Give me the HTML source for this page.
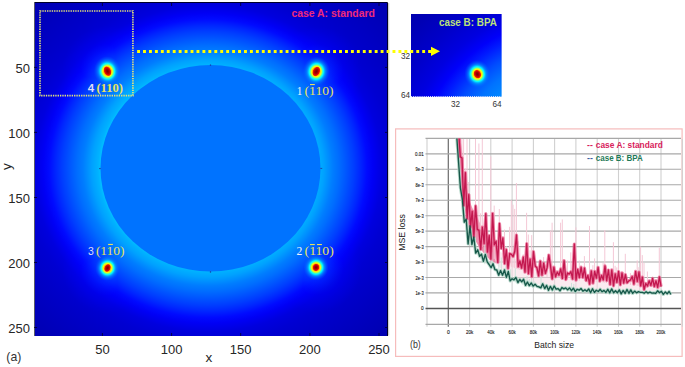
<!DOCTYPE html>
<html><head><meta charset="utf-8"><style>
html,body{margin:0;padding:0;background:#fff;width:685px;height:367px;overflow:hidden;}
svg{display:block;}

</style></head><body>
<svg width="685" height="367" viewBox="0 0 685 367"><defs><radialGradient id="hg" gradientUnits="userSpaceOnUse" cx="208.0" cy="168.3" r="260.0" gradientTransform="translate(0 10.251) scale(1 0.9391)"><stop offset="0.0000" stop-color="#00c7ff"/><stop offset="0.4115" stop-color="#00c2ff"/><stop offset="0.4231" stop-color="#00b2ff"/><stop offset="0.4462" stop-color="#00a1ff"/><stop offset="0.4808" stop-color="#007dff"/><stop offset="0.5038" stop-color="#006dff"/><stop offset="0.5269" stop-color="#005aff"/><stop offset="0.5615" stop-color="#003dff"/><stop offset="0.5846" stop-color="#0027ff"/><stop offset="0.6115" stop-color="#000aff"/><stop offset="0.6346" stop-color="#0000f5"/><stop offset="0.6692" stop-color="#0000de"/><stop offset="0.7115" stop-color="#0000d2"/><stop offset="0.7692" stop-color="#0000c9"/><stop offset="0.8654" stop-color="#0000bd"/><stop offset="1.0000" stop-color="#0000ad"/></radialGradient><radialGradient id="hg2" gradientUnits="userSpaceOnUse" cx="210.5" cy="168.3" r="260.0" gradientTransform="translate(0 10.251) scale(1 0.9391)"><stop offset="0.0000" stop-color="#0094ff"/><stop offset="0.4038" stop-color="#008fff"/><stop offset="0.4808" stop-color="#0073ff"/><stop offset="0.5385" stop-color="#004dff"/><stop offset="0.5962" stop-color="#001cff"/><stop offset="0.6346" stop-color="#0000fa"/><stop offset="0.6846" stop-color="#0000e0"/><stop offset="0.7692" stop-color="#0000c9"/><stop offset="0.8654" stop-color="#0000b6"/><stop offset="1.0000" stop-color="#0000a3"/></radialGradient><radialGradient id="sg"><stop offset="0.000" stop-color="#ff4c00"/><stop offset="0.200" stop-color="#ff6b00"/><stop offset="0.287" stop-color="#ffbd00"/><stop offset="0.353" stop-color="#faff05"/><stop offset="0.413" stop-color="#9eff61"/><stop offset="0.473" stop-color="#38ffc7"/><stop offset="0.533" stop-color="#00f5ff"/><stop offset="0.600" stop-color="#00b8ff"/><stop offset="0.700" stop-color="#0094ff" stop-opacity="0.7"/><stop offset="0.853" stop-color="#007aff" stop-opacity="0.3"/><stop offset="1" stop-color="#0061ff" stop-opacity="0"/></radialGradient><radialGradient id="sc"><stop offset="0" stop-color="#780000"/><stop offset="0.45" stop-color="#b00000"/><stop offset="0.8" stop-color="#f00800" stop-opacity="0.9"/><stop offset="1" stop-color="#ff3000" stop-opacity="0"/></radialGradient><radialGradient id="halo"><stop offset="0" stop-color="#0070ff" stop-opacity="0.6"/><stop offset="0.3" stop-color="#0038ff" stop-opacity="0.5"/><stop offset="0.6" stop-color="#0000ff" stop-opacity="0.35"/><stop offset="1" stop-color="#0000ff" stop-opacity="0"/></radialGradient><clipPath id="hc"><rect x="34.0" y="3.0" width="354.0" height="333.0"/></clipPath></defs><g clip-path="url(#hc)"><rect x="34.0" y="3.0" width="354.0" height="333.0" fill="url(#hg)"/><ellipse cx="210.50" cy="168.30" rx="110.00" ry="103.30" fill="#0073ff"/><rect x="209.9" y="64.4" width="1.2" height="1.4" fill="#1a3aa0" opacity="0.85"/><rect x="209.9" y="271.2" width="1.2" height="1.5" fill="#1a3aa0" opacity="0.85"/><rect x="99.0" y="168.1" width="1.8" height="1.0" fill="#1a3aa0" opacity="0.85"/><rect x="320.4" y="167.9" width="1.8" height="1.0" fill="#1a3aa0" opacity="0.85"/><circle cx="107.5" cy="71.2" r="46" fill="url(#halo)" style="mix-blend-mode:lighten"/><circle cx="316.3" cy="71.5" r="46" fill="url(#halo)" style="mix-blend-mode:lighten"/><circle cx="107.5" cy="268.0" r="46" fill="url(#halo)" style="mix-blend-mode:lighten"/><circle cx="316.0" cy="267.4" r="46" fill="url(#halo)" style="mix-blend-mode:lighten"/><ellipse cx="107.5" cy="71.2" rx="13.5" ry="15.0" transform="rotate(-10 107.5 71.2)" fill="url(#sg)"/><ellipse cx="107.5" cy="71.2" rx="3.7" ry="5.4" transform="rotate(-25 107.5 71.2)" fill="url(#sc)"/><ellipse cx="316.3" cy="71.5" rx="13.5" ry="15.0" transform="rotate(10 316.3 71.5)" fill="url(#sg)"/><ellipse cx="316.3" cy="71.5" rx="3.7" ry="5.4" transform="rotate(25 316.3 71.5)" fill="url(#sc)"/><ellipse cx="107.5" cy="268.0" rx="12.2" ry="12.8" transform="rotate(10 107.5 268.0)" fill="url(#sg)"/><ellipse cx="107.5" cy="268.0" rx="3.2" ry="4.3" transform="rotate(25 107.5 268.0)" fill="url(#sc)"/><ellipse cx="316.0" cy="267.4" rx="12.6" ry="13.0" transform="rotate(6 316.0 267.4)" fill="url(#sg)"/><ellipse cx="316.0" cy="267.4" rx="3.5" ry="3.9" transform="rotate(15 316.0 267.4)" fill="url(#sc)"/></g><path d="M34.5 2.5 H387.5 V336.0" fill="none" stroke="#00002a" stroke-width="1"/><line x1="34.5" y1="2.0" x2="34.5" y2="336.0" stroke="#5a5a6a" stroke-width="1"/><line x1="102.4" y1="336.0" x2="102.4" y2="333.0" stroke="#00002a" stroke-width="0.8"/><line x1="102.4" y1="3" x2="102.4" y2="6" stroke="#00002a" stroke-width="0.8"/><line x1="34" y1="67.4" x2="37" y2="67.4" stroke="#00002a" stroke-width="0.8"/><line x1="388" y1="67.4" x2="385" y2="67.4" stroke="#00002a" stroke-width="0.8"/><line x1="171.6" y1="336.0" x2="171.6" y2="333.0" stroke="#00002a" stroke-width="0.8"/><line x1="171.6" y1="3" x2="171.6" y2="6" stroke="#00002a" stroke-width="0.8"/><line x1="34" y1="132.4" x2="37" y2="132.4" stroke="#00002a" stroke-width="0.8"/><line x1="388" y1="132.4" x2="385" y2="132.4" stroke="#00002a" stroke-width="0.8"/><line x1="240.7" y1="336.0" x2="240.7" y2="333.0" stroke="#00002a" stroke-width="0.8"/><line x1="240.7" y1="3" x2="240.7" y2="6" stroke="#00002a" stroke-width="0.8"/><line x1="34" y1="197.5" x2="37" y2="197.5" stroke="#00002a" stroke-width="0.8"/><line x1="388" y1="197.5" x2="385" y2="197.5" stroke="#00002a" stroke-width="0.8"/><line x1="309.9" y1="336.0" x2="309.9" y2="333.0" stroke="#00002a" stroke-width="0.8"/><line x1="309.9" y1="3" x2="309.9" y2="6" stroke="#00002a" stroke-width="0.8"/><line x1="34" y1="262.5" x2="37" y2="262.5" stroke="#00002a" stroke-width="0.8"/><line x1="388" y1="262.5" x2="385" y2="262.5" stroke="#00002a" stroke-width="0.8"/><line x1="379.0" y1="336.0" x2="379.0" y2="333.0" stroke="#00002a" stroke-width="0.8"/><line x1="379.0" y1="3" x2="379.0" y2="6" stroke="#00002a" stroke-width="0.8"/><line x1="34" y1="327.5" x2="37" y2="327.5" stroke="#00002a" stroke-width="0.8"/><line x1="388" y1="327.5" x2="385" y2="327.5" stroke="#00002a" stroke-width="0.8"/><text x="102.4" y="354.0" font-family="&quot;Liberation Sans&quot;, sans-serif" font-size="13.00" fill="#262626" text-anchor="middle">50</text><text x="30.0" y="73.0" font-family="&quot;Liberation Sans&quot;, sans-serif" font-size="13.00" fill="#262626" text-anchor="end">50</text><text x="171.6" y="354.0" font-family="&quot;Liberation Sans&quot;, sans-serif" font-size="13.00" fill="#262626" text-anchor="middle">100</text><text x="30.0" y="138.0" font-family="&quot;Liberation Sans&quot;, sans-serif" font-size="13.00" fill="#262626" text-anchor="end">100</text><text x="240.7" y="354.0" font-family="&quot;Liberation Sans&quot;, sans-serif" font-size="13.00" fill="#262626" text-anchor="middle">150</text><text x="30.0" y="203.1" font-family="&quot;Liberation Sans&quot;, sans-serif" font-size="13.00" fill="#262626" text-anchor="end">150</text><text x="309.9" y="354.0" font-family="&quot;Liberation Sans&quot;, sans-serif" font-size="13.00" fill="#262626" text-anchor="middle">200</text><text x="30.0" y="268.1" font-family="&quot;Liberation Sans&quot;, sans-serif" font-size="13.00" fill="#262626" text-anchor="end">200</text><text x="379.0" y="354.0" font-family="&quot;Liberation Sans&quot;, sans-serif" font-size="13.00" fill="#262626" text-anchor="middle">250</text><text x="30.0" y="333.1" font-family="&quot;Liberation Sans&quot;, sans-serif" font-size="13.00" fill="#262626" text-anchor="end">250</text><text x="208.8" y="361.5" font-family="&quot;Liberation Sans&quot;, sans-serif" font-size="13.50" fill="#262626" text-anchor="middle">x</text><text transform="translate(11.4 166.5) rotate(-90)" font-family="&quot;Liberation Sans&quot;, sans-serif" font-size="13.5" fill="#262626" text-anchor="middle">y</text><text x="6.3" y="361.4" font-family="&quot;Liberation Sans&quot;, sans-serif" font-size="13.40" fill="#333333" textLength="15.0" lengthAdjust="spacingAndGlyphs">(a)</text><line x1="388.7" y1="3" x2="388.7" y2="335.5" stroke="#c4c4c4" stroke-width="1"/><rect x="40.0" y="11" width="92.9" height="84.6" fill="none" stroke="#e2e27a" stroke-width="1.7" stroke-dasharray="1.35 1.0"/><text x="87.7" y="92.3" font-family="&quot;Liberation Sans&quot;, sans-serif" font-size="11.60" fill="#dcdcf8" font-weight="bold" textLength="6.4" lengthAdjust="spacingAndGlyphs">4</text><text x="96.4" y="92.3" font-family="&quot;Liberation Serif&quot;, serif" font-size="12.60" fill="#e8e25e" font-weight="bold" textLength="26.5" lengthAdjust="spacingAndGlyphs">(110)</text><text x="296.7" y="94.8" font-family="&quot;Liberation Serif&quot;, serif" font-size="11.60" fill="#eef4fc" textLength="5.6" lengthAdjust="spacingAndGlyphs">1</text><text x="304.6" y="94.8" font-family="&quot;Liberation Serif&quot;, serif" font-size="12.60" fill="#e8e25e" textLength="28.9" lengthAdjust="spacingAndGlyphs">(110)</text><rect x="310.0" y="84.0" width="4.8" height="1.1" fill="#e8e25e"/><text x="88.1" y="255.1" font-family="&quot;Liberation Sans&quot;, sans-serif" font-size="11.60" fill="#dcdcf8" textLength="5.8" lengthAdjust="spacingAndGlyphs">3</text><text x="95.9" y="255.1" font-family="&quot;Liberation Serif&quot;, serif" font-size="12.60" fill="#e8e25e" textLength="28.6" lengthAdjust="spacingAndGlyphs">(110)</text><rect x="108.1" y="243.9" width="4.8" height="1.1" fill="#e8e25e"/><text x="296.5" y="255.1" font-family="&quot;Liberation Serif&quot;, serif" font-size="11.60" fill="#eef4fc" textLength="5.8" lengthAdjust="spacingAndGlyphs">2</text><text x="304.6" y="255.1" font-family="&quot;Liberation Serif&quot;, serif" font-size="12.60" fill="#e8e25e" textLength="29.2" lengthAdjust="spacingAndGlyphs">(110)</text><rect x="310.0" y="244.0" width="4.8" height="1.1" fill="#e8e25e"/><rect x="317.0" y="244.0" width="4.9" height="1.1" fill="#e8e25e"/><text x="291.4" y="17.1" font-family="&quot;Liberation Sans&quot;, sans-serif" font-size="11.40" fill="#ee2a7b" font-weight="bold" textLength="83.5" lengthAdjust="spacingAndGlyphs">case A: standard</text><clipPath id="insc"><rect x="411" y="14" width="90.8" height="83"/></clipPath><g clip-path="url(#insc)"><g transform="translate(411 14) scale(0.9763) translate(-40 -11)"><rect x="40" y="11" width="93" height="85.5" fill="url(#hg2)"/><ellipse cx="108.0" cy="72.6" rx="13.3" ry="14.5" transform="rotate(-10 108.0 72.6)" fill="url(#sg)"/><ellipse cx="108.0" cy="72.6" rx="3.8" ry="4.8" transform="rotate(-25 108.0 72.6)" fill="url(#sc)"/></g></g><line x1="411" y1="96.6" x2="501.8" y2="96.6" stroke="#e8e8ff" stroke-width="1" stroke-dasharray="1.2 0.9"/><text x="438.9" y="25.8" font-family="&quot;Liberation Sans&quot;, sans-serif" font-size="11.40" fill="#bde07a" font-weight="bold" textLength="58.0" lengthAdjust="spacingAndGlyphs">case B: BPA</text><text x="410.0" y="59.0" font-family="&quot;Liberation Sans&quot;, sans-serif" font-size="8.20" fill="#333" text-anchor="end">32</text><text x="410.0" y="97.6" font-family="&quot;Liberation Sans&quot;, sans-serif" font-size="8.20" fill="#333" text-anchor="end">64</text><text x="455.6" y="107.0" font-family="&quot;Liberation Sans&quot;, sans-serif" font-size="8.20" fill="#333" text-anchor="middle">32</text><text x="497.1" y="107.0" font-family="&quot;Liberation Sans&quot;, sans-serif" font-size="8.20" fill="#333" text-anchor="middle">64</text><line x1="137.1" y1="51.4" x2="431" y2="51.4" stroke="#ffff00" stroke-width="3" stroke-dasharray="2.9 3.04"/><polygon points="431,46.7 440,51.3 431,55.9" fill="#ffff00"/><rect x="395.6" y="128.9" width="286.5" height="227.5" fill="#fff" stroke="#f6bcbc" stroke-width="1.2"/><line x1="427.0" y1="138.9" x2="427.0" y2="326.8" stroke="#d0d0d0" stroke-width="1.1"/><line x1="448.3" y1="138.9" x2="448.3" y2="326.8" stroke="#6a6a6a" stroke-width="1.2"/><line x1="469.6" y1="138.9" x2="469.6" y2="326.8" stroke="#d0d0d0" stroke-width="1.1"/><line x1="490.8" y1="138.9" x2="490.8" y2="326.8" stroke="#d0d0d0" stroke-width="1.1"/><line x1="512.1" y1="138.9" x2="512.1" y2="326.8" stroke="#d0d0d0" stroke-width="1.1"/><line x1="533.4" y1="138.9" x2="533.4" y2="326.8" stroke="#d0d0d0" stroke-width="1.1"/><line x1="554.6" y1="138.9" x2="554.6" y2="326.8" stroke="#d0d0d0" stroke-width="1.1"/><line x1="575.9" y1="138.9" x2="575.9" y2="326.8" stroke="#d0d0d0" stroke-width="1.1"/><line x1="597.2" y1="138.9" x2="597.2" y2="326.8" stroke="#d0d0d0" stroke-width="1.1"/><line x1="618.5" y1="138.9" x2="618.5" y2="326.8" stroke="#d0d0d0" stroke-width="1.1"/><line x1="639.7" y1="138.9" x2="639.7" y2="326.8" stroke="#d0d0d0" stroke-width="1.1"/><line x1="661.0" y1="138.9" x2="661.0" y2="326.8" stroke="#d0d0d0" stroke-width="1.1"/><line x1="682.3" y1="138.9" x2="682.3" y2="326.8" stroke="#d0d0d0" stroke-width="1.1"/><line x1="425.5" y1="308.4" x2="681.0" y2="308.4" stroke="#555555" stroke-width="1.5"/><line x1="425.5" y1="292.9" x2="681.0" y2="292.9" stroke="#a8a8a8" stroke-width="1.1"/><line x1="425.5" y1="277.5" x2="681.0" y2="277.5" stroke="#a8a8a8" stroke-width="1.1"/><line x1="425.5" y1="262.0" x2="681.0" y2="262.0" stroke="#a8a8a8" stroke-width="1.1"/><line x1="425.5" y1="246.6" x2="681.0" y2="246.6" stroke="#a8a8a8" stroke-width="1.1"/><line x1="425.5" y1="231.1" x2="681.0" y2="231.1" stroke="#a8a8a8" stroke-width="1.1"/><line x1="425.5" y1="215.7" x2="681.0" y2="215.7" stroke="#a8a8a8" stroke-width="1.1"/><line x1="425.5" y1="200.2" x2="681.0" y2="200.2" stroke="#a8a8a8" stroke-width="1.1"/><line x1="425.5" y1="184.8" x2="681.0" y2="184.8" stroke="#a8a8a8" stroke-width="1.1"/><line x1="425.5" y1="169.3" x2="681.0" y2="169.3" stroke="#a8a8a8" stroke-width="1.1"/><line x1="425.5" y1="153.9" x2="681.0" y2="153.9" stroke="#a8a8a8" stroke-width="1.1"/><line x1="425.5" y1="138.4" x2="681.0" y2="138.4" stroke="#a8a8a8" stroke-width="1.1"/><line x1="425.5" y1="324.3" x2="681.0" y2="324.3" stroke="#a8a8a8" stroke-width="1.3"/><clipPath id="pc"><rect x="427.3" y="138.4" width="253.7" height="185.4"/></clipPath><g clip-path="url(#pc)"><polygon points="456.3,91.7 457.3,105.4 458.4,116.8 459.5,129.8 460.5,143.9 461.6,155.7 462.7,165.9 463.7,174.7 464.8,182.4 465.8,189.2 466.9,195.2 468.0,200.6 469.0,205.5 470.1,209.1 471.2,211.6 472.2,213.8 473.3,216.0 474.4,217.9 475.4,219.8 476.5,221.6 477.5,223.6 478.6,225.8 479.7,227.9 480.7,229.8 481.8,231.7 482.9,233.4 483.9,235.1 485.0,236.7 486.1,238.2 487.1,239.6 488.2,240.9 489.2,242.1 490.3,243.3 491.4,244.5 492.4,245.5 493.5,246.6 494.6,247.6 495.6,248.6 496.7,249.5 497.8,250.4 498.8,251.1 499.9,251.7 500.9,252.3 502.0,252.8 503.1,253.3 504.1,253.8 505.2,254.3 506.3,254.8 507.3,255.3 508.4,255.8 509.5,256.2 510.5,256.7 511.6,257.1 512.6,257.6 513.7,258.1 514.8,258.7 515.8,259.2 516.9,259.7 518.0,260.2 519.0,260.7 520.1,261.2 521.1,261.6 522.2,262.1 523.3,262.5 524.3,262.9 525.4,263.4 526.5,263.8 527.5,264.2 528.6,264.6 529.7,264.9 530.7,265.3 531.8,265.7 532.8,266.0 533.9,266.4 535.0,266.6 536.0,266.9 537.1,267.2 538.2,267.5 539.2,267.7 540.3,268.0 541.4,268.2 542.4,268.5 543.5,268.7 544.5,269.0 545.6,269.2 546.7,269.5 547.7,269.7 548.8,269.9 549.9,270.1 550.9,270.4 552.0,270.6 553.1,270.8 554.1,271.0 555.2,271.2 556.2,271.3 557.3,271.5 558.4,271.6 559.4,271.8 560.5,271.9 561.6,272.1 562.6,272.2 563.7,272.3 564.8,272.5 565.8,272.6 566.9,272.7 567.9,272.9 569.0,273.0 570.1,273.1 571.1,273.3 572.2,273.4 573.3,273.5 574.3,273.6 575.4,273.7 576.5,273.9 577.5,274.0 578.6,274.1 579.6,274.2 580.7,274.3 581.8,274.4 582.8,274.6 583.9,274.7 585.0,274.8 586.0,274.9 587.1,275.0 588.2,275.1 589.2,275.2 590.3,275.3 591.3,275.4 592.4,275.5 593.5,275.6 594.5,275.7 595.6,275.8 596.7,275.9 597.7,276.0 598.8,276.1 599.8,276.3 600.9,276.4 602.0,276.5 603.0,276.6 604.1,276.7 605.2,276.9 606.2,277.0 607.3,277.1 608.4,277.2 609.4,277.3 610.5,277.4 611.5,277.5 612.6,277.6 613.7,277.8 614.7,277.9 615.8,278.0 616.9,278.1 617.9,278.2 619.0,278.3 620.1,278.4 621.1,278.5 622.2,278.6 623.2,278.7 624.3,278.8 625.4,278.9 626.4,279.0 627.5,279.1 628.6,279.2 629.6,279.3 630.7,279.5 631.8,279.7 632.8,279.9 633.9,280.0 634.9,280.2 636.0,280.4 637.1,280.6 638.1,280.8 639.2,280.9 640.3,281.1 641.3,281.3 642.4,281.4 643.5,281.6 644.5,281.8 645.6,281.9 646.6,282.1 647.7,282.2 648.8,282.4 649.8,282.5 650.9,282.7 652.0,282.9 653.0,283.0 654.1,283.1 655.2,283.3 656.2,283.4 657.3,283.6 658.3,283.7 659.4,283.9 660.5,284.0 660.5,291.4 659.4,291.4 658.3,291.4 657.3,291.3 656.2,291.3 655.2,291.3 654.1,291.3 653.0,291.2 652.0,291.2 650.9,291.2 649.8,291.1 648.8,291.1 647.7,291.1 646.6,291.1 645.6,291.0 644.5,291.0 643.5,291.0 642.4,291.0 641.3,290.9 640.3,290.9 639.2,290.9 638.1,290.8 637.1,290.8 636.0,290.8 634.9,290.8 633.9,290.7 632.8,290.7 631.8,290.7 630.7,290.7 629.6,290.6 628.6,290.6 627.5,290.6 626.4,290.6 625.4,290.5 624.3,290.5 623.2,290.5 622.2,290.4 621.1,290.4 620.1,290.4 619.0,290.4 617.9,290.3 616.9,290.3 615.8,290.3 614.7,290.2 613.7,290.2 612.6,290.2 611.5,290.1 610.5,290.1 609.4,290.1 608.4,290.1 607.3,290.0 606.2,290.0 605.2,290.0 604.1,289.9 603.0,289.9 602.0,289.9 600.9,289.8 599.8,289.8 598.8,289.8 597.7,289.7 596.7,289.7 595.6,289.6 594.5,289.6 593.5,289.5 592.4,289.4 591.3,289.4 590.3,289.3 589.2,289.3 588.2,289.2 587.1,289.1 586.0,289.1 585.0,289.0 583.9,288.9 582.8,288.9 581.8,288.8 580.7,288.7 579.6,288.6 578.6,288.6 577.5,288.5 576.5,288.4 575.4,288.4 574.3,288.3 573.3,288.2 572.2,288.1 571.1,288.0 570.1,288.0 569.0,287.9 567.9,287.8 566.9,287.7 565.8,287.6 564.8,287.6 563.7,287.5 562.6,287.4 561.6,287.3 560.5,287.2 559.4,287.1 558.4,287.0 557.3,286.9 556.2,286.9 555.2,286.8 554.1,286.6 553.1,286.5 552.0,286.4 550.9,286.2 549.9,286.1 548.8,285.9 547.7,285.8 546.7,285.6 545.6,285.4 544.5,285.3 543.5,285.1 542.4,284.9 541.4,284.8 540.3,284.6 539.2,284.4 538.2,284.2 537.1,284.0 536.0,283.9 535.0,283.7 533.9,283.5 532.8,283.2 531.8,282.9 530.7,282.6 529.7,282.3 528.6,282.0 527.5,281.7 526.5,281.4 525.4,281.0 524.3,280.7 523.3,280.3 522.2,279.9 521.1,279.6 520.1,279.2 519.0,278.8 518.0,278.4 516.9,277.9 515.8,277.5 514.8,277.1 513.7,276.6 512.6,276.1 511.6,275.6 510.5,275.0 509.5,274.4 508.4,273.7 507.3,273.0 506.3,272.3 505.2,271.6 504.1,270.9 503.1,270.1 502.0,269.3 500.9,268.5 499.9,267.6 498.8,266.7 497.8,265.7 496.7,264.7 495.6,263.9 494.6,263.2 493.5,262.6 492.4,261.9 491.4,261.1 490.3,260.4 489.2,259.6 488.2,258.8 487.1,257.8 486.1,256.7 485.0,255.5 483.9,254.2 482.9,252.9 481.8,251.5 480.7,250.1 479.7,248.5 478.6,246.9 477.5,245.1 476.5,243.2 475.4,241.3 474.4,239.2 473.3,236.9 472.2,234.5 471.2,231.9 470.1,229.0 469.0,225.7 468.0,221.9 466.9,217.7 465.8,213.1 464.8,207.8 463.7,202.0 462.7,195.3 461.6,187.1 460.5,176.8 459.5,164.7 458.4,150.1 457.3,133.4 456.3,114.3" fill="#f7dbe4" opacity="0.55"/><polygon points="456.3,77.3 457.3,91.9 458.4,104.0 459.5,117.9 460.5,132.9 461.6,145.6 462.7,156.4 463.7,165.8 464.8,174.0 465.8,181.2 466.9,187.7 468.0,193.5 469.0,198.7 470.1,202.5 471.2,205.1 472.2,207.5 473.3,209.8 474.4,211.9 475.4,213.9 476.5,215.8 477.5,217.9 478.6,220.3 479.7,222.5 480.7,224.6 481.8,226.6 482.9,228.4 483.9,230.2 485.0,231.9 486.1,233.5 487.1,235.0 488.2,236.4 489.2,237.7 490.3,239.0 491.4,240.2 492.4,241.4 493.5,242.5 494.6,243.5 495.6,244.6 495.6,263.2 494.6,262.5 493.5,261.8 492.4,261.1 491.4,260.3 490.3,259.6 489.2,258.7 488.2,257.9 487.1,256.9 486.1,255.8 485.0,254.6 483.9,253.3 482.9,252.0 481.8,250.6 480.7,249.2 479.7,247.6 478.6,246.0 477.5,244.2 476.5,242.5 475.4,240.7 474.4,238.8 473.3,236.7 472.2,234.6 471.2,232.2 470.1,229.6 469.0,226.5 468.0,222.7 466.9,218.5 465.8,213.8 464.8,208.6 463.7,202.7 462.7,195.9 461.6,187.8 460.5,177.9 459.5,166.1 458.4,152.8 457.3,138.6 456.3,122.0" fill="#e4487a" opacity="0.55"/><g stroke="#f4c8d6" stroke-width="1"><line x1="458.5" y1="154.1" x2="458.5" y2="138.9"/><line x1="461.9" y1="187.4" x2="461.9" y2="138.9"/><line x1="463.6" y1="199.5" x2="463.6" y2="138.9"/><line x1="465.3" y1="209.2" x2="465.3" y2="168.4"/><line x1="467.0" y1="217.2" x2="467.0" y2="138.9"/><line x1="468.7" y1="224.0" x2="468.7" y2="182.0"/><line x1="475.5" y1="236.8" x2="475.5" y2="138.9"/><line x1="478.9" y1="242.0" x2="478.9" y2="143.5"/><line x1="480.6" y1="244.6" x2="480.6" y2="213.3"/><line x1="482.3" y1="247.0" x2="482.3" y2="138.9"/><line x1="490.8" y1="256.2" x2="490.8" y2="156.4"/><line x1="494.2" y1="258.9" x2="494.2" y2="205.6"/><line x1="495.9" y1="260.2" x2="495.9" y2="240.3"/><line x1="499.3" y1="262.3" x2="499.3" y2="209.0"/><line x1="504.5" y1="264.4" x2="504.5" y2="229.6"/><line x1="506.2" y1="265.0" x2="506.2" y2="246.1"/><line x1="509.6" y1="266.2" x2="509.6" y2="226.8"/><line x1="511.3" y1="266.8" x2="511.3" y2="200.3"/><line x1="513.0" y1="267.4" x2="513.0" y2="204.7"/><line x1="514.7" y1="268.1" x2="514.7" y2="208.9"/><line x1="516.4" y1="268.8" x2="516.4" y2="183.0"/><line x1="518.1" y1="269.4" x2="518.1" y2="241.3"/><line x1="519.8" y1="270.0" x2="519.8" y2="247.6"/><line x1="523.2" y1="271.2" x2="523.2" y2="254.2"/><line x1="526.6" y1="272.3" x2="526.6" y2="212.8"/><line x1="528.3" y1="272.8" x2="528.3" y2="234.5"/><line x1="530.0" y1="273.3" x2="530.0" y2="250.3"/><line x1="531.7" y1="273.8" x2="531.7" y2="235.1"/><line x1="533.4" y1="274.3" x2="533.4" y2="255.3"/><line x1="543.6" y1="276.3" x2="543.6" y2="257.1"/><line x1="547.0" y1="276.9" x2="547.0" y2="262.9"/><line x1="550.4" y1="277.5" x2="550.4" y2="230.6"/><line x1="552.1" y1="277.8" x2="552.1" y2="222.7"/><line x1="560.6" y1="278.9" x2="560.6" y2="222.7"/><line x1="562.3" y1="279.1" x2="562.3" y2="219.4"/><line x1="567.4" y1="279.6" x2="567.4" y2="260.5"/><line x1="570.8" y1="279.9" x2="570.8" y2="252.4"/><line x1="572.5" y1="280.1" x2="572.5" y2="268.4"/><line x1="574.2" y1="280.2" x2="574.2" y2="255.9"/><line x1="575.9" y1="280.4" x2="575.9" y2="227.3"/><line x1="577.6" y1="280.6" x2="577.6" y2="267.8"/><line x1="579.3" y1="280.7" x2="579.3" y2="260.5"/><line x1="584.4" y1="281.1" x2="584.4" y2="256.1"/><line x1="589.5" y1="281.6" x2="589.5" y2="226.0"/><line x1="592.9" y1="281.8" x2="592.9" y2="265.2"/><line x1="594.6" y1="281.9" x2="594.6" y2="258.4"/><line x1="596.3" y1="282.1" x2="596.3" y2="270.5"/><line x1="603.1" y1="282.7" x2="603.1" y2="262.9"/><line x1="604.8" y1="282.8" x2="604.8" y2="230.1"/><line x1="606.5" y1="283.0" x2="606.5" y2="266.6"/><line x1="611.7" y1="283.4" x2="611.7" y2="272.2"/><line x1="613.4" y1="283.6" x2="613.4" y2="242.2"/><line x1="615.1" y1="283.7" x2="615.1" y2="265.8"/><line x1="616.8" y1="283.8" x2="616.8" y2="267.4"/><line x1="618.5" y1="284.0" x2="618.5" y2="263.4"/><line x1="623.6" y1="284.4" x2="623.6" y2="271.9"/><line x1="625.3" y1="284.5" x2="625.3" y2="253.8"/><line x1="630.4" y1="284.9" x2="630.4" y2="273.1"/><line x1="637.2" y1="285.9" x2="637.2" y2="260.4"/><line x1="638.9" y1="286.1" x2="638.9" y2="267.1"/><line x1="640.6" y1="286.3" x2="640.6" y2="246.6"/><line x1="642.3" y1="286.6" x2="642.3" y2="255.1"/><line x1="644.0" y1="286.8" x2="644.0" y2="262.9"/><line x1="647.4" y1="287.2" x2="647.4" y2="271.5"/><line x1="655.9" y1="288.2" x2="655.9" y2="279.1"/><line x1="659.3" y1="288.5" x2="659.3" y2="247.7"/></g><g stroke="#cfe4dc" stroke-width="1"><line x1="475.5" y1="252.6" x2="475.5" y2="236.5"/><line x1="480.2" y1="259.2" x2="480.2" y2="229.0"/><line x1="484.9" y1="264.2" x2="484.9" y2="240.6"/><line x1="491.9" y1="269.3" x2="491.9" y2="252.1"/><line x1="498.9" y1="273.7" x2="498.9" y2="259.6"/><line x1="501.3" y1="275.3" x2="501.3" y2="257.5"/><line x1="505.9" y1="278.2" x2="505.9" y2="259.4"/><line x1="510.6" y1="280.6" x2="510.6" y2="269.3"/><line x1="515.3" y1="282.5" x2="515.3" y2="268.2"/><line x1="522.3" y1="284.7" x2="522.3" y2="279.1"/><line x1="527.0" y1="286.0" x2="527.0" y2="275.9"/><line x1="529.3" y1="286.6" x2="529.3" y2="279.0"/><line x1="531.7" y1="287.2" x2="531.7" y2="274.4"/><line x1="534.0" y1="287.6" x2="534.0" y2="280.8"/><line x1="541.0" y1="288.7" x2="541.0" y2="273.3"/><line x1="571.5" y1="291.5" x2="571.5" y2="282.9"/><line x1="573.8" y1="291.6" x2="573.8" y2="284.0"/></g><path d="M454.7,130.9 L456.6,134.4 L458.5,161.2 L460.4,187.8 L462.3,198.9 L464.3,222.2 L466.2,219.0 L468.1,244.0 L470.0,225.8 L471.9,244.5 L473.8,237.0 L475.7,253.1 L477.7,249.8 L479.6,256.2 L481.5,254.1 L483.4,261.4 L485.3,254.4 L487.2,261.9 L489.1,264.5 L491.1,267.6 L493.0,263.7 L494.9,269.6 L496.8,270.0 L498.7,275.2 L500.6,270.6 L502.5,275.2 L504.5,270.0 L506.4,277.4 L508.3,271.5 L510.2,280.9 L512.1,278.8 L514.0,279.8 L515.9,277.5 L517.9,282.6 L519.8,279.4 L521.7,281.8 L523.6,279.2 L525.5,285.4 L527.4,282.0 L529.3,285.7 L531.3,283.0 L533.2,286.1 L535.1,284.3 L537.0,286.4 L538.9,286.9 L540.8,287.9 L542.7,283.8 L544.7,288.6 L546.6,285.4 L548.5,290.3 L550.4,286.4 L552.3,290.0 L554.2,286.0 L556.1,289.2 L558.1,288.6 L560.0,290.8 L561.9,287.5 L563.8,288.9 L565.7,287.9 L567.6,289.9 L569.5,287.9 L571.5,290.7 L573.4,288.2 L575.3,291.6 L577.2,289.3 L579.1,290.2 L581.0,288.5 L582.9,291.2 L584.9,289.7 L586.8,291.2 L588.7,288.9 L590.6,292.7 L592.5,288.8 L594.4,292.5 L596.3,290.2 L598.3,291.5 L600.2,289.3 L602.1,291.8 L604.0,290.4 L605.9,292.5 L607.8,289.3 L609.7,292.9 L611.7,288.9 L613.6,292.8 L615.5,290.7 L617.4,292.8 L619.3,289.9 L621.2,293.9 L623.1,290.5 L625.1,293.4 L627.0,289.5 L628.9,293.3 L630.8,289.9 L632.7,293.4 L634.6,291.1 L636.5,292.8 L638.5,291.7 L640.4,292.3 L642.3,292.4 L644.2,293.2 L646.1,291.7 L648.0,293.1 L649.9,292.2 L651.9,293.1 L653.8,292.9 L655.7,293.4 L657.6,290.8 L659.5,292.8 L661.4,291.3 L663.3,294.4 L665.3,291.9 L667.2,293.7 L669.1,291.5 L671.0,294.5" fill="none" stroke="#b4d6c8" stroke-width="3.2" stroke-linejoin="round"/><path d="M455.2,130.9 L456.9,130.9 L458.6,130.9 L460.3,156.7 L462.0,158.0 L463.7,205.5 L465.4,172.7 L467.1,218.6 L468.8,194.7 L470.5,227.1 L472.2,211.3 L473.9,237.0 L475.6,205.9 L477.3,229.4 L479.0,230.4 L480.7,249.4 L482.4,227.2 L484.1,243.5 L485.8,213.7 L487.5,252.0 L489.2,235.5 L490.9,259.1 L492.6,213.4 L494.3,244.8 L496.1,241.2 L497.8,262.4 L499.5,223.5 L501.2,248.5 L502.9,237.9 L504.6,263.6 L506.3,249.7 L508.0,268.3 L509.7,253.7 L511.4,254.4 L513.1,256.5 L514.8,251.3 L516.5,235.0 L518.2,266.7 L519.9,261.0 L521.6,268.1 L523.3,257.2 L525.0,272.2 L526.7,243.5 L528.4,273.7 L530.1,259.2 L531.8,276.6 L533.5,251.6 L535.2,266.0 L536.9,267.7 L538.6,275.9 L540.3,261.1 L542.0,275.1 L543.7,263.2 L545.4,273.4 L547.1,267.9 L548.8,255.0 L550.5,266.0 L552.2,278.9 L553.9,267.1 L555.6,276.8 L557.3,272.0 L559.0,275.2 L560.7,268.8 L562.4,278.4 L564.1,260.6 L565.8,279.6 L567.5,273.0 L569.2,274.1 L570.9,271.6 L572.6,278.9 L574.3,244.0 L576.0,280.2 L577.7,269.3 L579.4,277.5 L581.1,267.2 L582.8,277.5 L584.5,268.1 L586.2,280.6 L587.9,275.3 L589.6,284.1 L591.3,270.9 L593.0,283.2 L594.7,271.4 L596.4,278.2 L598.1,267.3 L599.8,281.2 L601.6,275.3 L603.3,279.9 L605.0,265.9 L606.7,280.6 L608.4,270.0 L610.1,284.5 L611.8,269.8 L613.5,285.9 L615.2,273.9 L616.9,282.3 L618.6,271.5 L620.3,284.8 L622.0,272.9 L623.7,283.1 L625.4,274.6 L627.1,282.8 L628.8,280.8 L630.5,280.0 L632.2,276.5 L633.9,284.1 L635.6,271.4 L637.3,281.4 L639.0,272.0 L640.7,285.8 L642.4,277.1 L644.1,289.6 L645.8,283.5 L647.5,286.0 L649.2,280.8 L650.9,285.4 L652.6,278.4 L654.3,286.5 L656.0,280.8 L657.7,287.4 L659.4,277.0 L661.1,286.6" fill="none" stroke="#ea5f8c" stroke-width="3.2" stroke-linejoin="round" opacity="0.75"/><path d="M455.2,130.9 L456.9,130.9 L458.6,130.9 L460.3,156.7 L462.0,158.0 L463.7,205.5 L465.4,172.7 L467.1,218.6 L468.8,194.7 L470.5,227.1 L472.2,211.3 L473.9,237.0 L475.6,205.9 L477.3,229.4 L479.0,230.4 L480.7,249.4 L482.4,227.2 L484.1,243.5 L485.8,213.7 L487.5,252.0 L489.2,235.5 L490.9,259.1 L492.6,213.4 L494.3,244.8 L496.1,241.2 L497.8,262.4 L499.5,223.5 L501.2,248.5 L502.9,237.9 L504.6,263.6 L506.3,249.7 L508.0,268.3 L509.7,253.7 L511.4,254.4 L513.1,256.5 L514.8,251.3 L516.5,235.0 L518.2,266.7 L519.9,261.0 L521.6,268.1 L523.3,257.2 L525.0,272.2 L526.7,243.5 L528.4,273.7 L530.1,259.2 L531.8,276.6 L533.5,251.6 L535.2,266.0 L536.9,267.7 L538.6,275.9 L540.3,261.1 L542.0,275.1 L543.7,263.2 L545.4,273.4 L547.1,267.9 L548.8,255.0 L550.5,266.0 L552.2,278.9 L553.9,267.1 L555.6,276.8 L557.3,272.0 L559.0,275.2 L560.7,268.8 L562.4,278.4 L564.1,260.6 L565.8,279.6 L567.5,273.0 L569.2,274.1 L570.9,271.6 L572.6,278.9 L574.3,244.0 L576.0,280.2 L577.7,269.3 L579.4,277.5 L581.1,267.2 L582.8,277.5 L584.5,268.1 L586.2,280.6 L587.9,275.3 L589.6,284.1 L591.3,270.9 L593.0,283.2 L594.7,271.4 L596.4,278.2 L598.1,267.3 L599.8,281.2 L601.6,275.3 L603.3,279.9 L605.0,265.9 L606.7,280.6 L608.4,270.0 L610.1,284.5 L611.8,269.8 L613.5,285.9 L615.2,273.9 L616.9,282.3 L618.6,271.5 L620.3,284.8 L622.0,272.9 L623.7,283.1 L625.4,274.6 L627.1,282.8 L628.8,280.8 L630.5,280.0 L632.2,276.5 L633.9,284.1 L635.6,271.4 L637.3,281.4 L639.0,272.0 L640.7,285.8 L642.4,277.1 L644.1,289.6 L645.8,283.5 L647.5,286.0 L649.2,280.8 L650.9,285.4 L652.6,278.4 L654.3,286.5 L656.0,280.8 L657.7,287.4 L659.4,277.0 L661.1,286.6" fill="none" stroke="#c2174e" stroke-width="1.3" stroke-linejoin="round"/><path d="M454.7,130.9 L456.6,134.4 L458.5,161.2 L460.4,187.8 L462.3,198.9 L464.3,222.2 L466.2,219.0 L468.1,244.0 L470.0,225.8 L471.9,244.5 L473.8,237.0 L475.7,253.1 L477.7,249.8 L479.6,256.2 L481.5,254.1 L483.4,261.4 L485.3,254.4 L487.2,261.9 L489.1,264.5 L491.1,267.6 L493.0,263.7 L494.9,269.6 L496.8,270.0 L498.7,275.2 L500.6,270.6 L502.5,275.2 L504.5,270.0 L506.4,277.4 L508.3,271.5 L510.2,280.9 L512.1,278.8 L514.0,279.8 L515.9,277.5 L517.9,282.6 L519.8,279.4 L521.7,281.8 L523.6,279.2 L525.5,285.4 L527.4,282.0 L529.3,285.7 L531.3,283.0 L533.2,286.1 L535.1,284.3 L537.0,286.4 L538.9,286.9 L540.8,287.9 L542.7,283.8 L544.7,288.6 L546.6,285.4 L548.5,290.3 L550.4,286.4 L552.3,290.0 L554.2,286.0 L556.1,289.2 L558.1,288.6 L560.0,290.8 L561.9,287.5 L563.8,288.9 L565.7,287.9 L567.6,289.9 L569.5,287.9 L571.5,290.7 L573.4,288.2 L575.3,291.6 L577.2,289.3 L579.1,290.2 L581.0,288.5 L582.9,291.2 L584.9,289.7 L586.8,291.2 L588.7,288.9 L590.6,292.7 L592.5,288.8 L594.4,292.5 L596.3,290.2 L598.3,291.5 L600.2,289.3 L602.1,291.8 L604.0,290.4 L605.9,292.5 L607.8,289.3 L609.7,292.9 L611.7,288.9 L613.6,292.8 L615.5,290.7 L617.4,292.8 L619.3,289.9 L621.2,293.9 L623.1,290.5 L625.1,293.4 L627.0,289.5 L628.9,293.3 L630.8,289.9 L632.7,293.4 L634.6,291.1 L636.5,292.8 L638.5,291.7 L640.4,292.3 L642.3,292.4 L644.2,293.2 L646.1,291.7 L648.0,293.1 L649.9,292.2 L651.9,293.1 L653.8,292.9 L655.7,293.4 L657.6,290.8 L659.5,292.8 L661.4,291.3 L663.3,294.4 L665.3,291.9 L667.2,293.7 L669.1,291.5 L671.0,294.5" fill="none" stroke="#17584a" stroke-width="1.35" stroke-linejoin="round"/></g><text x="421.1" y="310.4" font-family="&quot;Liberation Sans&quot;, sans-serif" font-size="5.90" fill="#000" textLength="2.6" lengthAdjust="spacingAndGlyphs" stroke="#333" stroke-width="0.12">0</text><text x="415.6" y="294.9" font-family="&quot;Liberation Sans&quot;, sans-serif" font-size="5.90" fill="#000" textLength="8.1" lengthAdjust="spacingAndGlyphs" stroke="#333" stroke-width="0.12">1e-3</text><text x="415.6" y="279.5" font-family="&quot;Liberation Sans&quot;, sans-serif" font-size="5.90" fill="#000" textLength="8.1" lengthAdjust="spacingAndGlyphs" stroke="#333" stroke-width="0.12">2e-3</text><text x="415.6" y="264.0" font-family="&quot;Liberation Sans&quot;, sans-serif" font-size="5.90" fill="#000" textLength="8.1" lengthAdjust="spacingAndGlyphs" stroke="#333" stroke-width="0.12">3e-3</text><text x="415.6" y="248.6" font-family="&quot;Liberation Sans&quot;, sans-serif" font-size="5.90" fill="#000" textLength="8.1" lengthAdjust="spacingAndGlyphs" stroke="#333" stroke-width="0.12">4e-3</text><text x="415.6" y="233.1" font-family="&quot;Liberation Sans&quot;, sans-serif" font-size="5.90" fill="#000" textLength="8.1" lengthAdjust="spacingAndGlyphs" stroke="#333" stroke-width="0.12">5e-3</text><text x="415.6" y="217.7" font-family="&quot;Liberation Sans&quot;, sans-serif" font-size="5.90" fill="#000" textLength="8.1" lengthAdjust="spacingAndGlyphs" stroke="#333" stroke-width="0.12">6e-3</text><text x="415.6" y="202.2" font-family="&quot;Liberation Sans&quot;, sans-serif" font-size="5.90" fill="#000" textLength="8.1" lengthAdjust="spacingAndGlyphs" stroke="#333" stroke-width="0.12">7e-3</text><text x="415.6" y="186.8" font-family="&quot;Liberation Sans&quot;, sans-serif" font-size="5.90" fill="#000" textLength="8.1" lengthAdjust="spacingAndGlyphs" stroke="#333" stroke-width="0.12">8e-3</text><text x="415.6" y="171.3" font-family="&quot;Liberation Sans&quot;, sans-serif" font-size="5.90" fill="#000" textLength="8.1" lengthAdjust="spacingAndGlyphs" stroke="#333" stroke-width="0.12">9e-3</text><text x="415.1" y="155.9" font-family="&quot;Liberation Sans&quot;, sans-serif" font-size="5.90" fill="#000" textLength="8.6" lengthAdjust="spacingAndGlyphs" stroke="#333" stroke-width="0.12">0.01</text><text x="446.9" y="333.8" font-family="&quot;Liberation Sans&quot;, sans-serif" font-size="5.90" fill="#000" textLength="2.8" lengthAdjust="spacingAndGlyphs" stroke="#333" stroke-width="0.12">0</text><text x="466.0" y="333.8" font-family="&quot;Liberation Sans&quot;, sans-serif" font-size="5.90" fill="#000" textLength="7.2" lengthAdjust="spacingAndGlyphs" stroke="#333" stroke-width="0.12">20k</text><text x="487.2" y="333.8" font-family="&quot;Liberation Sans&quot;, sans-serif" font-size="5.90" fill="#000" textLength="7.2" lengthAdjust="spacingAndGlyphs" stroke="#333" stroke-width="0.12">40k</text><text x="508.5" y="333.8" font-family="&quot;Liberation Sans&quot;, sans-serif" font-size="5.90" fill="#000" textLength="7.2" lengthAdjust="spacingAndGlyphs" stroke="#333" stroke-width="0.12">60k</text><text x="529.8" y="333.8" font-family="&quot;Liberation Sans&quot;, sans-serif" font-size="5.90" fill="#000" textLength="7.2" lengthAdjust="spacingAndGlyphs" stroke="#333" stroke-width="0.12">80k</text><text x="550.2" y="333.8" font-family="&quot;Liberation Sans&quot;, sans-serif" font-size="5.90" fill="#000" textLength="8.8" lengthAdjust="spacingAndGlyphs" stroke="#333" stroke-width="0.12">100k</text><text x="571.5" y="333.8" font-family="&quot;Liberation Sans&quot;, sans-serif" font-size="5.90" fill="#000" textLength="8.8" lengthAdjust="spacingAndGlyphs" stroke="#333" stroke-width="0.12">120k</text><text x="592.8" y="333.8" font-family="&quot;Liberation Sans&quot;, sans-serif" font-size="5.90" fill="#000" textLength="8.8" lengthAdjust="spacingAndGlyphs" stroke="#333" stroke-width="0.12">140k</text><text x="614.1" y="333.8" font-family="&quot;Liberation Sans&quot;, sans-serif" font-size="5.90" fill="#000" textLength="8.8" lengthAdjust="spacingAndGlyphs" stroke="#333" stroke-width="0.12">160k</text><text x="635.3" y="333.8" font-family="&quot;Liberation Sans&quot;, sans-serif" font-size="5.90" fill="#000" textLength="8.8" lengthAdjust="spacingAndGlyphs" stroke="#333" stroke-width="0.12">180k</text><text x="656.6" y="333.8" font-family="&quot;Liberation Sans&quot;, sans-serif" font-size="5.90" fill="#000" textLength="8.8" lengthAdjust="spacingAndGlyphs" stroke="#333" stroke-width="0.12">200k</text><text transform="translate(405.2 232.4) rotate(-90)" font-family="&quot;Liberation Sans&quot;, sans-serif" font-size="8.4" fill="#222" text-anchor="middle" textLength="36.7" lengthAdjust="spacingAndGlyphs">MSE loss</text><text x="534.3" y="347.5" font-family="&quot;Liberation Sans&quot;, sans-serif" font-size="9.80" fill="#222" textLength="39.7" lengthAdjust="spacingAndGlyphs">Batch size</text><text x="410.0" y="347.9" font-family="&quot;Liberation Sans&quot;, sans-serif" font-size="10.50" fill="#333" textLength="10.8" lengthAdjust="spacingAndGlyphs">(b)</text><text x="587.0" y="147.7" font-family="&quot;Liberation Sans&quot;, sans-serif" font-size="9.50" fill="#d8205a" font-weight="bold" textLength="5.8" lengthAdjust="spacingAndGlyphs">--</text><text x="595.8" y="147.7" font-family="&quot;Liberation Sans&quot;, sans-serif" font-size="9.50" fill="#d8205a" font-weight="bold" textLength="67.0" lengthAdjust="spacingAndGlyphs">case A: standard</text><text x="587.0" y="160.6" font-family="&quot;Liberation Sans&quot;, sans-serif" font-size="9.50" fill="#4060a0" font-weight="bold" textLength="5.8" lengthAdjust="spacingAndGlyphs">--</text><text x="595.8" y="160.6" font-family="&quot;Liberation Sans&quot;, sans-serif" font-size="9.50" fill="#1e7a58" font-weight="bold" textLength="47.0" lengthAdjust="spacingAndGlyphs">case B: BPA</text></svg>
</body></html>
